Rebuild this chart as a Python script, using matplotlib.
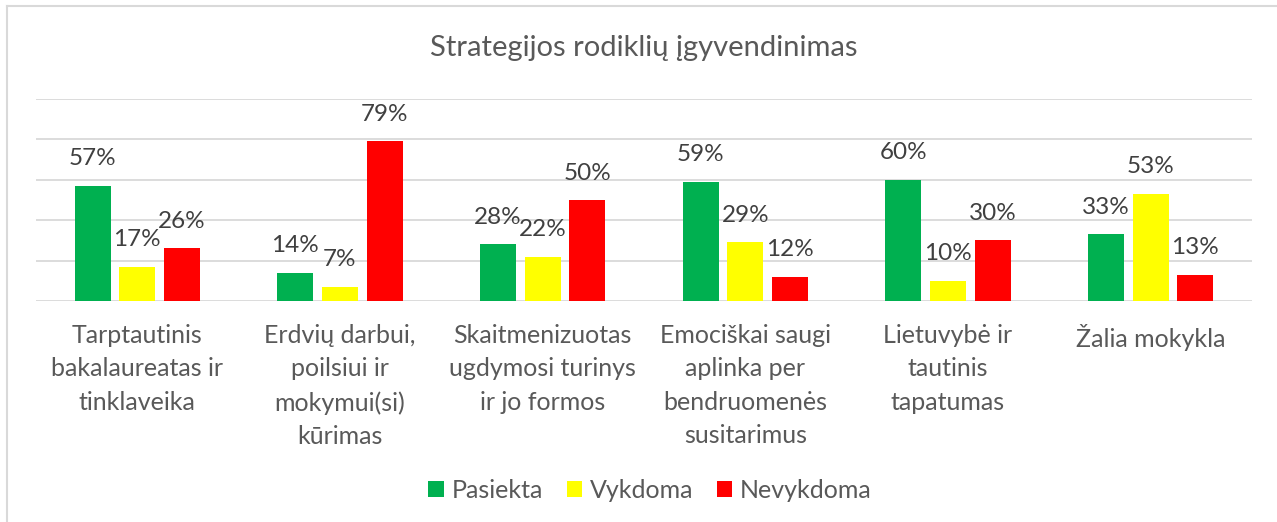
import matplotlib
matplotlib.use("Agg")
import matplotlib.pyplot as plt
from matplotlib.patches import Patch
from matplotlib.lines import Line2D
import numpy as np

plt.rcParams['font.family'] = ['Lato', 'DejaVu Sans']

categories = [
    "Tarptautinis\nbakalaureatas ir\ntinklaveika",
    "Erdvių darbui,\npoilsiui ir\nmokymui(si)\nkūrimas",
    "Skaitmenizuotas\nugdymosi turinys\nir jo formos",
    "Emociškai saugi\naplinka per\nbendruomenės\nsusitarimus",
    "Lietuvybė ir\ntautinis\ntapatumas",
    "Žalia mokykla",
]
series_names = ["Pasiekta", "Vykdoma", "Nevykdoma"]
pasiekta = [57, 14, 28, 59, 60, 33]
vykdoma = [17, 7, 22, 29, 10, 53]
nevykdoma = [26, 79, 50, 12, 30, 13]
colors = ["#00B050", "#FFFF00", "#FF0000"]

W, H = 1277, 522
fig = plt.figure(figsize=(W / 100, H / 100), dpi=100)
ax = fig.add_axes([36 / W, (H - 301) / H, (1252 - 36) / W, (301 - 99) / H])

x = np.arange(len(categories))
offsets = [-0.22, 0.0, 0.22]
width = 0.178
for vals, off, col in zip([pasiekta, vykdoma, nevykdoma], offsets, colors):
    ax.bar(x + off, vals, width=width, color=col, zorder=3)
    for xi, v in zip(x + off, vals):
        ax.annotate(f"{v}%", xy=(xi, v), xytext=(0, 27), textcoords="offset pixels",
                    ha="center", va="center", fontsize=17.5, color="#404040", zorder=4)

ax.set_xlim(-0.5, len(categories) - 0.5)
ax.set_ylim(0, 100)
ax.set_yticks([0, 20, 40, 60, 80, 100])
ax.yaxis.grid(True, color="#D9D9D9", linewidth=1.3, zorder=0)
ax.tick_params(left=False, labelleft=False, bottom=False, labelbottom=False)
for s in ax.spines.values():
    s.set_visible(False)

for xi, c in zip(x, categories):
    ax.annotate(c, xy=(xi, 0), xycoords=("data", "axes fraction"), xytext=(0, -23),
                textcoords="offset pixels", ha="center", va="top", fontsize=18,
                color="#595959", linespacing=1.55)

fig.text(644 / W, 1 - 48 / H, "Strategijos rodiklių įgyvendinimas", ha="center", va="center",
         fontsize=21, color="#595959")

handles = [Patch(facecolor=c, edgecolor="none") for c in colors]
leg = fig.legend(handles, series_names, loc="center", bbox_to_anchor=(650 / W, 1 - 490 / H),
                 ncol=3, frameon=False, fontsize=18, labelcolor="#595959",
                 handlelength=0.62, handleheight=0.62, handletextpad=0.3, columnspacing=0.95)

# chart border (top and left visible)
fig.add_artist(Line2D([7 / W, 1.0], [1 - 6 / H, 1 - 6 / H], color="#D9D9D9", linewidth=1.5, transform=fig.transFigure))
fig.add_artist(Line2D([7 / W, 7 / W], [0, 1 - 6 / H], color="#D9D9D9", linewidth=1.5, transform=fig.transFigure))

fig.savefig("out.png", dpi=100, facecolor="white")
